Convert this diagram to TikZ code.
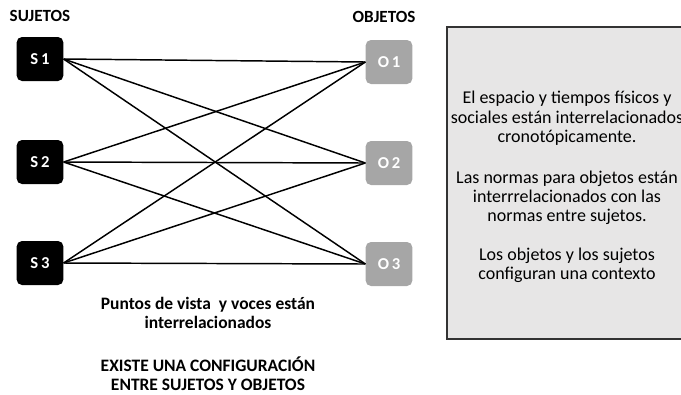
\documentclass[tikz,border=0pt]{standalone}
\usepackage{fontspec}
\setmainfont{Carlito}
\usepackage{xcolor}
\definecolor{objgray}{HTML}{A6A6A6}
\definecolor{boxgray}{HTML}{E7E6E6}

\begin{document}
\begin{tikzpicture}[x=0.75pt,y=-0.75pt]
  \tikzstyle{sujeto}=[rectangle,rounded corners=4pt,fill=black,text=white,
    font=\bfseries\fontsize{12.5}{14}\selectfont,minimum width=35pt,minimum height=33pt]
  \tikzstyle{objeto}=[sujeto,fill=objgray]
  \tikzstyle{titulo}=[font=\bfseries\fontsize{12.8}{15}\selectfont]
  \tikzstyle{nota}=[align=center,inner sep=0pt,font=\bfseries\fontsize{13.1}{14.2}\selectfont]
  \useasboundingbox (0,0) rectangle (681,394);
  \clip (0,0) rectangle (681,394);
  % sujetos y objetos
  \node(s1)[sujeto] at (40,59) {S\,1};
  \node(s2)[sujeto] at (40,162) {S\,2};
  \node(s3)[sujeto] at (40,263) {S\,3};
  \node(o1)[objeto] at (389,62) {O\,1};
  \node(o2)[objeto] at (389,163) {O\,2};
  \node(o3)[objeto] at (389,264) {O\,3};
  \node(tsuj)[titulo] at (40,16) {SUJETOS};
  \node(tobj)[titulo] at (384,17) {OBJETOS};
  % todas las relaciones
  \foreach \i in {1,2,3}
    \foreach \j in {1,2,3}
      \draw[line width=1.1pt] (s\i.east) -- (o\j.west);
  \node(puntos)[nota] at (208,313) {Puntos de vista\ \ y voces están\\interrelacionados};
  \node(existe)[nota] at (208,374) {EXISTE UNA CONFIGURACIÓN\\ENTRE SUJETOS Y OBJETOS};
  % cuadro de la derecha
  \draw[fill=boxgray,draw=black!80,line width=0.9pt] (447,27) rectangle (700,339);
  \node(texto)[align=center,font=\fontsize{13.5}{14.3}\selectfont] at (567,187)
    {El espacio y tiempos físicos y\\sociales están interrelacionados\\cronotópicamente.\\[16.5pt]
     Las normas para objetos están\\interrrelacionados con las\\normas entre sujetos.\\[15pt]
     Los objetos y los sujetos\\configuran una contexto};
\end{tikzpicture}
\end{document}
